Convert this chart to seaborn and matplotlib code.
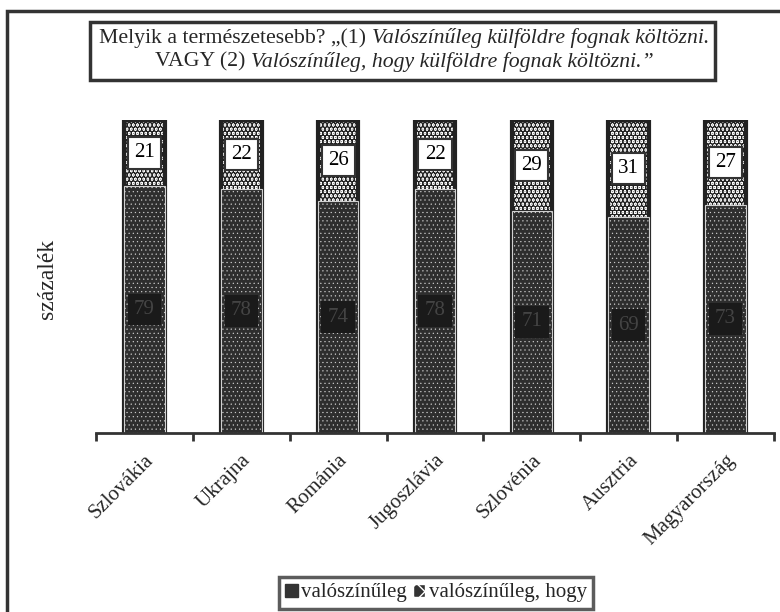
import matplotlib
matplotlib.use("Agg")
import matplotlib as mpl
import matplotlib.pyplot as plt
from matplotlib.patches import Rectangle, Patch
import seaborn as sns
import pandas as pd

countries = ["Szlovákia", "Ukrajna", "Románia", "Jugoszlávia", "Szlovénia", "Ausztria", "Magyarország"]
val_likely = [79, 78, 74, 78, 71, 69, 73]          # valószínűleg
val_likely_hogy = [21, 22, 26, 22, 29, 31, 27]     # valószínűleg, hogy
series_names = ["valószínűleg", "valószínűleg, hogy"]
ylabel = "százalék"

df = pd.DataFrame({"country": countries, "bottom": val_likely, "top": val_likely_hogy})
df["total"] = df["bottom"] + df["top"]

sns.set_style("white")
plt.rcParams["font.family"] = ["Liberation Serif", "DejaVu Serif"]
DARK = "#333333"

fig = plt.figure(figsize=(7.8, 6.12), dpi=100)
W, H = 780, 612
ax = fig.add_axes([96 / W, 1 - 433 / H, (774 - 96) / W, (433 - 120) / H])

TOP_HLW = 3.4
BOT_HLW = 0.35
with mpl.rc_context({"hatch.linewidth": TOP_HLW}):
    sns.barplot(data=df, x="country", y="total", color="white", width=0.42, ax=ax, saturation=1)
n = len(countries)
for p in ax.patches[:n]:
    p.set_facecolor("white")
    p.set_edgecolor("#222222")
    p.set_linewidth(3)
    p.set_hatch("....")
    if hasattr(p, "set_hatch_linewidth"):
        p.set_hatch_linewidth(TOP_HLW)

with mpl.rc_context({"hatch.linewidth": BOT_HLW}):
    sns.barplot(data=df, x="country", y="bottom", color=DARK, width=0.42, ax=ax, saturation=1)
for p in ax.patches[n:]:
    p.set_facecolor("#2e2e2e")
    p.set_edgecolor("#d0d0d0")
    p.set_linewidth(0.8)
    p.set_hatch("....")
    if hasattr(p, "set_hatch_linewidth"):
        p.set_hatch_linewidth(BOT_HLW)

for i, (b, t) in enumerate(zip(val_likely, val_likely_hogy)):
    ax.text(i, b + t / 2, str(t), ha="center", va="center", fontsize=15, color="black",
            bbox=dict(boxstyle="square,pad=0.3", facecolor="white", edgecolor=DARK, linewidth=1.5))
    ax.text(i, b / 2, str(b), ha="center", va="center", fontsize=15, color="#444444",
            bbox=dict(boxstyle="square,pad=0.3", facecolor="#1a1a1a", edgecolor="none"))

ax.set_ylim(0, 100)
ax.set_xlim(-0.5, n - 0.5)
ax.set_xlabel("")
ax.set_ylabel("")
ax.set_yticks([])
for s in ["left", "right", "top"]:
    ax.spines[s].set_visible(False)
ax.spines["bottom"].set_color(DARK)
ax.spines["bottom"].set_linewidth(2)
ax.set_xticks(range(n))
ax.set_xticklabels(countries, rotation=45, ha="right", rotation_mode="anchor", fontsize=15)
ax.tick_params(axis="x", which="major", length=0, pad=13)
ax.set_xticks([i - 0.5 for i in range(n + 1)], minor=True)
ax.tick_params(axis="x", which="minor", length=6, width=2, color=DARK, direction="out", bottom=True)
ax.set_facecolor("none")

fig.text(48 / W, 1 - 279 / H, ylabel, rotation=90, ha="center", va="center", fontsize=17)

# Title box with mixed regular / italic text
fig.add_artist(Rectangle((90 / W, 1 - 80 / H), (715 - 90) / W, (80 - 22) / H, transform=fig.transFigure,
                         fill=False, edgecolor=DARK, linewidth=2.5))
renderer = fig.canvas.get_renderer()


def measure(s, style, size):
    t1 = fig.text(0, 0, "H" + s + "H", fontstyle=style, fontsize=size)
    t2 = fig.text(0, 0, "HH", fontstyle=style, fontsize=size)
    w = t1.get_window_extent(renderer).width - t2.get_window_extent(renderer).width
    t1.remove()
    t2.remove()
    return w


def rich_line(parts, cx, cy, size):
    widths = [measure(s, st, size) for s, st in parts]
    x = cx - sum(widths) / 2
    for (s, st), w in zip(parts, widths):
        fig.text(x / W, 1 - cy / H, s, fontstyle=st, fontsize=size, ha="left", va="center")
        x += w


title_l1 = [("Melyik a természetesebb? „(1) ", "normal"), ("Valószínűleg külföldre fognak költözni.", "italic")]
title_l2 = [("VAGY (2) ", "normal"), ("Valószínűleg, hogy külföldre fognak költözni.”", "italic")]
rich_line(title_l1, 404, 38, 15.7)
rich_line(title_l2, 404, 62, 15.7)

# Outer frame
fig.add_artist(Rectangle((7 / W, -0.1), 1.2, 1 - 11 / H + 0.1, transform=fig.transFigure,
                         fill=False, edgecolor=DARK, linewidth=2.5, clip_on=False))

handles = [Patch(facecolor=DARK, edgecolor=DARK),
           Patch(facecolor=DARK, edgecolor="white", hatch="xx")]
leg = fig.legend(handles, series_names, loc="center", bbox_to_anchor=(436 / W, 1 - 593 / H), ncol=2,
                 fontsize=15, frameon=True, fancybox=False, handlelength=0.6, handleheight=0.6,
                 handletextpad=0.15, columnspacing=0.3, borderpad=0.3)
leg.get_frame().set_edgecolor(DARK)
leg.get_frame().set_linewidth(2.5)

fig.savefig("out.png", dpi=100)
